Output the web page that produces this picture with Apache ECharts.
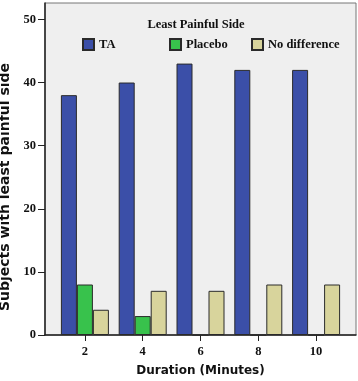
<!DOCTYPE html>
<html>
<head>
<meta charset="utf-8">
<script src="https://cdn.jsdelivr.net/npm/echarts@6/dist/echarts.min.js"></script>
<style>
  html, body { margin: 0; padding: 0; background: #fff; }
  #chart { width: 358px; height: 381px; }
</style>
</head>
<body>
<div id="chart"></div>
<script>
// 数据
const durations = ['2', '4', '6', '8', '10']
const seriesNames = ['TA', 'Placebo', 'No difference']
const taValues = [38, 40, 43, 42, 42]
const placeboValues = [8, 3, 0, 0, 0]
const noDiffValues = [4, 7, 7, 8, 8]
const yTicks = [0, 10, 20, 30, 40, 50]

const serif = '"Liberation Serif", "DejaVu Serif", serif'
const sans = '"DejaVu Sans", Verdana, sans-serif'
const yMax = 52.6
const colors = ['#3b4fa8', '#38c24c', '#d8d49c']
const legendLefts = [82, 169, 251]

const barStyle = (color) => ({
  color: color,
  borderColor: '#2a2a2a',
  borderWidth: 1
})

// 图例：每项单独定位
const legends = seriesNames.map((name, i) => ({
  top: 38,
  left: legendLefts[i],
  padding: 0,
  icon: 'rect',
  itemWidth: 11,
  itemHeight: 11,
  textStyle: { fontFamily: serif, fontWeight: 'bold', fontSize: 12.5, color: '#111' },
  data: [name]
}))

const chart = echarts.init(document.getElementById('chart'))

const option = {
  animation: false,
  title: {
    text: 'Least Painful Side',
    left: 196,
    top: 18,
    padding: 0,
    textAlign: 'center',
    textStyle: { fontFamily: serif, fontWeight: 'bold', fontSize: 12.5, color: '#111' }
  },
  legend: legends,
  grid: [
    {
      left: 45, right: 2, top: 3, bottom: 46, outerBoundsMode: 'none', containLabel: false,
      show: true, backgroundColor: '#efefef', borderColor: '#777', borderWidth: 1
    },
    { left: 56, right: 13, top: 3, bottom: 46, outerBoundsMode: 'none', containLabel: false }
  ],
  xAxis: [
    {
      gridIndex: 0, type: 'value', min: 0, max: 1,
      axisLine: { show: true, onZero: false, lineStyle: { color: '#222', width: 1.5 } },
      axisTick: { show: false }, axisLabel: { show: false }, splitLine: { show: false }
    },
    {
      gridIndex: 1, type: 'category', data: durations,
      name: 'Duration (Minutes)', nameLocation: 'middle', nameGap: 30,
      nameTextStyle: { fontFamily: sans, fontWeight: 'bold', fontSize: 12, color: '#111' },
      axisLine: { show: false },
      axisTick: { show: true, alignWithLabel: true, length: 6, lineStyle: { color: '#222' } },
      axisLabel: { fontFamily: serif, fontWeight: 'bold', fontSize: 12.5, color: '#111', margin: 10 }
    }
  ],
  yAxis: [
    {
      gridIndex: 0, type: 'value', min: 0, max: yMax,
      name: 'Subjects with least painful side', nameLocation: 'middle', nameGap: 23,
      nameTextStyle: { fontFamily: sans, fontWeight: 'bold', fontSize: 14, color: '#111', padding: [0, 36, 0, 0] },
      axisLine: { show: true, lineStyle: { color: '#222', width: 1.5 } },
      axisTick: { show: true, length: 7, customValues: yTicks, lineStyle: { color: '#222' } },
      axisLabel: { customValues: yTicks, fontFamily: serif, fontWeight: 'bold', fontSize: 12.5, color: '#111', margin: 9 },
      splitLine: { show: false }
    },
    {
      gridIndex: 1, type: 'value', min: 0, max: yMax, show: false
    }
  ],
  series: [
    {
      name: seriesNames[0], type: 'bar', xAxisIndex: 1, yAxisIndex: 1,
      data: taValues, barWidth: 16, barGap: '0%', itemStyle: barStyle(colors[0])
    },
    {
      name: seriesNames[1], type: 'bar', xAxisIndex: 1, yAxisIndex: 1,
      data: placeboValues, barWidth: 16, barGap: '0%', itemStyle: barStyle(colors[1])
    },
    {
      name: seriesNames[2], type: 'bar', xAxisIndex: 1, yAxisIndex: 1,
      data: noDiffValues, barWidth: 16, barGap: '0%', itemStyle: barStyle(colors[2])
    }
  ]
}

chart.setOption(option)
</script>
</body>
</html>
